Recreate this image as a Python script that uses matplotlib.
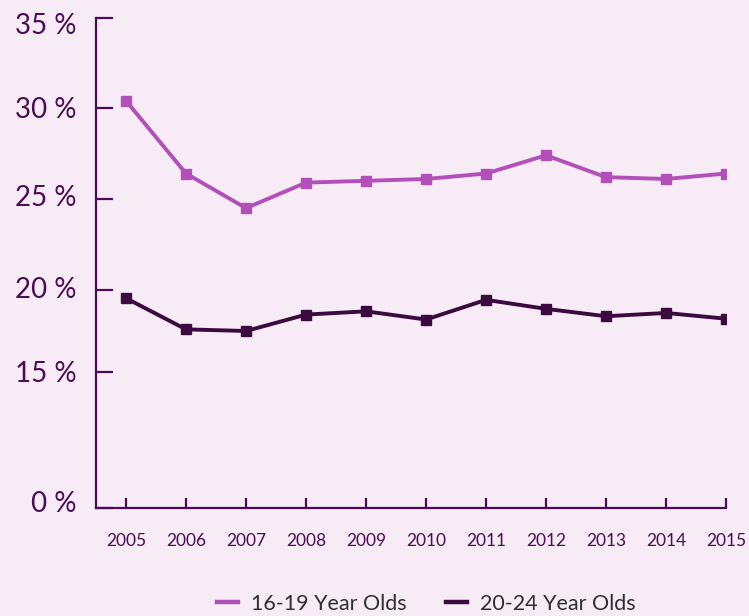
import matplotlib
matplotlib.use('Agg')

import numpy as np
import matplotlib.pyplot as plt
from matplotlib.transforms import ScaledTranslation

plt.rcParams['font.family'] = ['Lato', 'DejaVu Sans']

# -------------------------
# Data
# -------------------------
years = [2005, 2006, 2007, 2008, 2009, 2010, 2011, 2012, 2013, 2014, 2015]
teens = [30.4, 26.4, 24.5, 25.9, 26.0, 26.1, 26.4, 27.4, 26.2, 26.1, 26.4]
young_adults = [19.5, 17.6, 17.5, 18.5, 18.7, 18.2, 19.4, 18.85, 18.4, 18.6, 18.25]

tick_values = [0, 15, 20, 25, 30, 35]
tick_labels = ["0 %", "15 %", "20 %", "25 %", "30 %", "35 %"]
# broken axis: where each tick sits along the axis (pixels from the bottom)
tick_pos = [0, 136, 218, 309, 400, 490]

BG = "#f7ecf6"
AXIS = "#4b0b55"
C_TEEN = "#b24fb9"
C_YOUNG = "#3b0a3f"


def forward(v):
    return np.interp(v, tick_values, tick_pos)


def inverse(p):
    return np.interp(p, tick_pos, tick_values)


# -------------------------
# Plot
# -------------------------
fig = plt.figure(figsize=(7.49, 6.16), dpi=100, facecolor=BG)
ax = fig.add_axes([96 / 749, 1 - 508 / 616, 630 / 749, 490 / 616])
ax.set_facecolor(BG)
ax.set_yscale("function", functions=(forward, inverse))

ax.plot(years, teens, color=C_TEEN, linewidth=2.8, marker="s",
        markersize=7.5, label="16-19 Year Olds")
ax.plot(years, young_adults, color=C_YOUNG, linewidth=2.8, marker="s",
        markersize=7.5, label="20-24 Year Olds")

ax.set_xlim(2004.5, 2015)
ax.set_ylim(0, 35)
ax.set_xticks(years)
ax.set_yticks(tick_values)
ax.set_yticklabels(tick_labels)

for side in ["top", "right"]:
    ax.spines[side].set_visible(False)
for side in ["left", "bottom"]:
    ax.spines[side].set_color(AXIS)
    ax.spines[side].set_linewidth(1.6)

ax.tick_params(axis="y", direction="in", length=12, width=1.6, color=AXIS,
               pad=14, labelsize=20, labelcolor=AXIS)
ax.tick_params(axis="x", direction="in", length=7, width=1.6, color=AXIS,
               pad=18, labelsize=12.5, labelcolor=AXIS)
ax.yaxis.set_minor_locator(matplotlib.ticker.NullLocator())

# small nudges of the y labels as in the original
offsets = [7, 0, 3, 4, 0, -5]
for lab, off in zip(ax.get_yticklabels(), offsets):
    lab.set_transform(lab.get_transform() +
                      ScaledTranslation(0, off * 0.72 / 72, fig.dpi_scale_trans))

leg = fig.legend(loc="center", bbox_to_anchor=(0.569, 0.02), ncol=2,
                 frameon=False, fontsize=15.5, handlelength=1.0,
                 handletextpad=0.6, columnspacing=1.8, markerscale=0)
for h in leg.legend_handles:
    h.set_marker("")
    h.set_linewidth(3.2)
for t in leg.get_texts():
    t.set_color("#2f2f2f")

plt.savefig("out.png", dpi=100, facecolor=BG)
